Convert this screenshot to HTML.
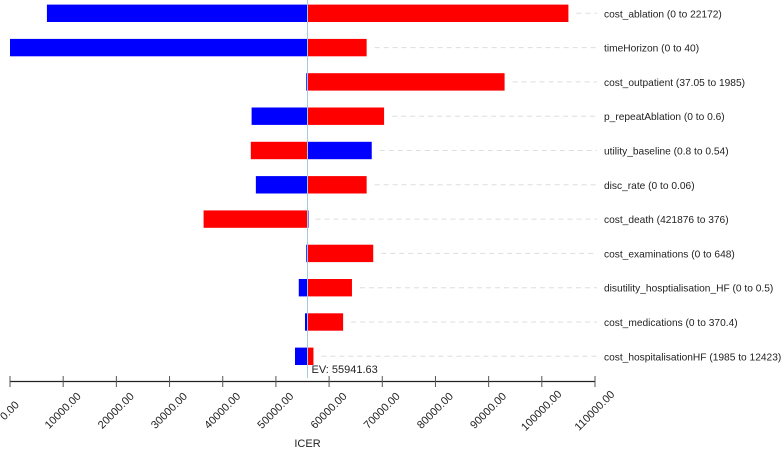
<!DOCTYPE html>
<html><head><meta charset="utf-8"><style>
body{margin:0;background:#fff;}
svg text{font-family:"Liberation Sans",Arial,sans-serif;fill:#222;}
</style></head><body>
<svg id="chart" width="782" height="449" xmlns="http://www.w3.org/2000/svg"></svg>
<script>
const labels = ["cost_ablation (0 to 22172)","timeHorizon (0 to 40)","cost_outpatient (37.05 to 1985)","p_repeatAblation (0 to 0.6)","utility_baseline (0.8 to 0.54)","disc_rate (0 to 0.06)","cost_death (421876 to 376)","cost_examinations (0 to 648)","disutility_hosptialisation_HF (0 to 0.5)","cost_medications (0 to 370.4)","cost_hospitalisationHF (1985 to 12423)"];
const lowValues = [6940, 0, 55700, 45430, 68020, 46230, 55941.63, 55700, 54300, 55470, 53590];
const highValues = [105000, 67060, 93000, 70340, 45280, 67060, 36400, 68300, 64300, 62640, 57060];
const ev = 55941.63;
const ticks = [0,10000,20000,30000,40000,50000,60000,70000,80000,90000,100000,110000];

const NS="http://www.w3.org/2000/svg";
const svg=document.getElementById('chart');
const x=v=>10+v*(585/110000);
const yc=i=>13.3+i*34.3;
function mk(t,a){const e=document.createElementNS(NS,t);for(const k in a)e.setAttribute(k,a[k]);svg.appendChild(e);return e;}

labels.forEach((lab,i)=>{
  const lo=lowValues[i],hi=highValues[i];
  const maxEnd=Math.max(x(lo),x(hi),x(ev));
  const dl=mk('line',{x1:maxEnd+8,x2:597,y1:yc(i),y2:yc(i),stroke:'#ddd','stroke-dasharray':'5,4'});
  
  
  [[lo,'#0000ff'],[hi,'#ff0000']].forEach(([v,c])=>{
    const a=Math.min(x(v),x(ev)),b=Math.max(x(v),x(ev));
    const r=mk('rect',{x:a,y:yc(i)-8.7,width:Math.max(b-a,1),height:17.4,fill:c});
    
    
  });
  const t=mk('text',{x:604,y:yc(i)+4,'font-size':10.2});
  t.textContent=lab;
  
  
});

const evl=mk('line',{x1:x(ev),x2:x(ev),y1:0,y2:378,stroke:'#a8c8e0','stroke-width':1});


const evt=mk('text',{x:x(ev)+4,y:373,'font-size':11});
evt.textContent='EV: '+ev.toFixed(2);



const ax=mk('line',{x1:x(0),x2:x(110000),y1:381.5,y2:381.5,stroke:'#222','stroke-width':1.2});


ticks.forEach(v=>{
  const tk=mk('line',{x1:x(v),x2:x(v),y1:376,y2:387,stroke:'#555'});
  
  
  const tl=mk('text',{x:x(v),y:414,'font-size':11,'text-anchor':'middle',transform:`rotate(-45 ${x(v)} 411)`});
  tl.textContent=v.toFixed(2);
  
  
});
const xt=mk('text',{x:x(ev),y:447,'font-size':11,'text-anchor':'middle'});
xt.textContent='ICER';


</script>
</body></html>
